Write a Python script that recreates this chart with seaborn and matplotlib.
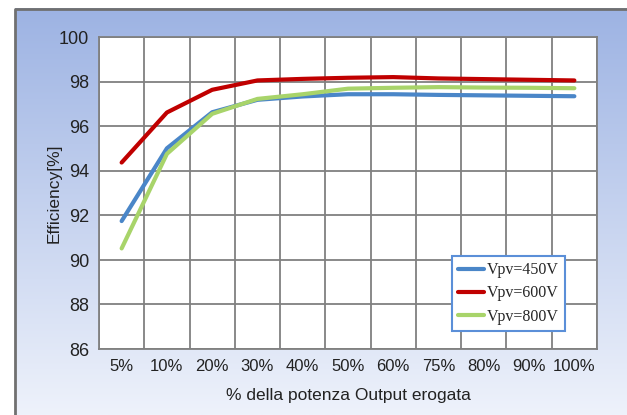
import numpy as np
import pandas as pd
import seaborn as sns
import matplotlib.pyplot as plt
from matplotlib.colors import LinearSegmentedColormap

# Data
loads = ["5%", "10%", "20%", "30%", "40%", "50%", "60%", "75%", "80%", "90%", "100%"]
eff_450 = [91.75, 95.02, 96.64, 97.20, 97.35, 97.45, 97.45, 97.42, 97.40, 97.38, 97.36]
eff_600 = [94.38, 96.63, 97.65, 98.07, 98.14, 98.19, 98.22, 98.16, 98.13, 98.10, 98.07]
eff_800 = [90.52, 94.77, 96.57, 97.24, 97.45, 97.70, 97.74, 97.77, 97.75, 97.74, 97.72]
series = ["Vpv=450V", "Vpv=600V", "Vpv=800V"]
colors = ["#4a86c8", "#c00000", "#a8d46a"]

df = pd.DataFrame({
    "load": loads * 3,
    "eff": eff_450 + eff_600 + eff_800,
    "series": np.repeat(series, len(loads)),
})

sns.set_style("white")
plt.rcParams["font.family"] = ["Liberation Sans", "DejaVu Sans"]

fig = plt.figure(figsize=(6.27, 4.15), dpi=100)
fig.patch.set_facecolor("white")

# Gradient panel behind the chart
bg = fig.add_axes([0, 0, 1, 1], zorder=-1)
bg.axis("off")
cmap = LinearSegmentedColormap.from_list("panel", ["#9db3e3", "#eef2fb"])
grad = np.linspace(0, 1, 256).reshape(-1, 1)
bg.imshow(grad, cmap=cmap, aspect="auto", extent=[15, 627, 415, 9])
bg.plot([15, 15, 627], [415, 9, 9], color="#707070", lw=2)
bg.set_xlim(0, 627)
bg.set_ylim(415, 0)

ax = fig.add_axes([99 / 627, 1 - 349 / 415, 498 / 627, 311.5 / 415])
ax.set_facecolor("white")

sns.lineplot(data=df, x="load", y="eff", hue="series", palette=colors,
             linewidth=3, sort=False, ax=ax)

ax.set_xlim(-0.5, len(loads) - 0.5)
ax.set_ylim(86, 100)
ax.set_yticks(np.arange(86, 101, 2))
ax.set_xticks(np.arange(len(loads)))
ax.set_xticklabels(loads)
ax.set_xticks(np.arange(len(loads) + 1) - 0.5, minor=True)
ax.tick_params(axis="x", which="major", length=0, labelsize=12, pad=7, colors="#222222")
ax.tick_params(axis="x", which="minor", length=5, width=1.2, color="#808080", direction="out")
ax.tick_params(axis="y", length=5, width=1.2, color="#808080", direction="out",
               labelsize=13, pad=2, labelcolor="#222222")
ax.grid(False)
ax.grid(True, which="minor", axis="x", color="#808080", lw=1.3)
ax.grid(True, which="major", axis="y", color="#808080", lw=1.3)
for s in ax.spines.values():
    s.set_color("#808080")
    s.set_linewidth(1.3)

ax.set_xlabel("% della potenza Output erogata", fontsize=12.5, color="#222222", labelpad=10)
ax.set_ylabel("Efficiency[%]", fontsize=12.5, color="#222222", labelpad=-2)

leg = ax.legend(loc="upper left", bbox_to_anchor=(0.709, 0.299), borderaxespad=0,
                frameon=True, fancybox=False, prop={"family": "Liberation Serif", "size": 11.5},
                handlelength=1.6, handletextpad=0.15, labelspacing=0.45, borderpad=0.4)
leg.get_frame().set_edgecolor("#5b8fd8")
leg.get_frame().set_linewidth(1.5)
leg.get_frame().set_alpha(1)
for h in leg.get_lines():
    h.set_linewidth(3)

fig.savefig("out.png", dpi=100)
